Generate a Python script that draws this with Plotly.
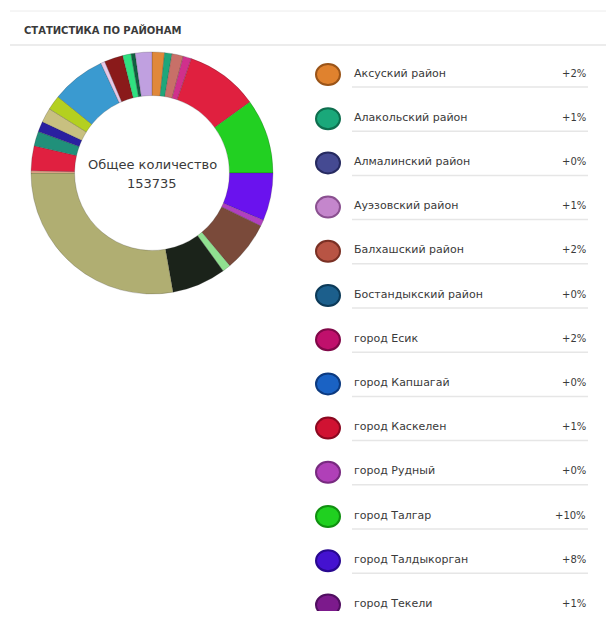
import plotly.graph_objects as go

# ---- donut slices (clockwise from 12 o'clock) ----
slice_labels = [
    "Аксуский район", "Алакольский район", "Балхашский район", "город Есик",
    "город Каскелен", "город Талгар", "город Талдыкорган", "город Рудный",
    "Жамбылский район", "Илийский район", "Карасайский район", "Енбекшиказахский район",
    "Кербулакский район", "Коксуский район", "Панфиловский район", "Алмалинский район",
    "Райымбекский район", "Саркандский район", "Бостандыкский район", "Ауэзовский район",
    "Уйгурский район", "Ескельдинский район", "Каратальский район", "город Текели",
]
slice_values = [
    2560, 1500, 2350, 1710, 14950, 15370, 9820, 1280,
    10250, 1710, 11100, 42700, 430, 5120, 2990, 2140,
    2990, 2990, 11100, 850, 3840, 1710, 850, 3420,
]
slice_colors = [
    "#e0883a", "#1fa67a", "#c87068", "#d0308c", "#e0203f", "#22d022", "#6a12ee", "#b040c0",
    "#7a4a3a", "#90e090", "#1b231a", "#b0ae72", "#f0b090", "#e02040", "#20907a", "#2a20a0",
    "#c8c080", "#b4d020", "#3a9ad0", "#e8c8e8", "#8a1a1a", "#30e080", "#106040", "#c0a0e0",
]

# ---- legend list ----
legend_names = [
    "Аксуский район", "Алакольский район", "Алмалинский район", "Ауэзовский район",
    "Балхашский район", "Бостандыкский район", "город Есик", "город Капшагай",
    "город Каскелен", "город Рудный", "город Талгар", "город Талдыкорган", "город Текели",
]
legend_pct = ["+2%", "+1%", "+0%", "+1%", "+2%", "+0%", "+2%", "+0%", "+1%", "+0%", "+10%", "+8%", "+1%"]
legend_colors = [
    "#e0822e", "#1aa87a", "#454a92", "#c486cc", "#b85444", "#1c5f8c", "#c0106c",
    "#1a62c4", "#d01232", "#b040b8", "#20d020", "#4412d0", "#7c1a8c",
]
legend_borders = [
    "#9a5418", "#0e6e4e", "#262a60", "#8a5090", "#7a3024", "#0c3a58", "#800848",
    "#0c3a80", "#8a0820", "#782a80", "#109010", "#280890", "#500e60",
]

total_text = "153735"

OFF = 8               # page body margin
W, H = 598, 603
cx, cy, R = 152, 173, 121
FONT = "DejaVu Sans, Liberation Sans, Arial"

fig = go.Figure()
fig.add_trace(go.Pie(
    labels=slice_labels, values=slice_values,
    marker=dict(colors=slice_colors, line=dict(color="rgba(40,40,40,0.35)", width=0.6)),
    sort=False, direction="clockwise", rotation=0, hole=0.64,
    textinfo="none", showlegend=False, hoverinfo="label+value",
    domain=dict(x=[(cx - R - OFF) / W, (cx + R - OFF) / W],
                y=[1 - (cy + R - OFF) / H, 1 - (cy - R - OFF) / H]),
))

shapes = []
annotations = []

# header lines
shapes.append(dict(type="line", x0=10, x1=620, y0=11, y1=11, line=dict(color="#ececec", width=1), layer="below"))
shapes.append(dict(type="line", x0=10, x1=620, y0=45, y1=45, line=dict(color="#e6e6e6", width=1.5), layer="below"))
annotations.append(dict(x=22, y=30, xref="x", yref="y", text="<b>СТАТИСТИКА ПО РАЙОНАМ</b>", showarrow=False,
                        xanchor="left", yanchor="middle", font=dict(size=10, color="#3a3a3a", family=FONT)))

# center text
annotations.append(dict(x=cx, y=cy - 9, xref="x", yref="y", text="Общее количество", showarrow=False,
                        xanchor="center", yanchor="middle", font=dict(size=13, color="#3a3a3a", family=FONT)))
annotations.append(dict(x=cx, y=cy + 10, xref="x", yref="y", text=total_text, showarrow=False,
                        xanchor="center", yanchor="middle", font=dict(size=13, color="#3a3a3a", family=FONT)))

# legend list
y0, dy = 74.5, 44.2
for i, (name, pct, col, bcol) in enumerate(zip(legend_names, legend_pct, legend_colors, legend_borders)):
    y = y0 + i * dy
    shapes.append(dict(type="circle", x0=328 - 12, x1=328 + 12, y0=y - 10.5, y1=y + 10.5,
                       fillcolor=col, line=dict(color=bcol, width=2)))
    shapes.append(dict(type="line", x0=352, x1=588, y0=y + 12.5, y1=y + 12.5,
                       line=dict(color="#e6e6e6", width=1.5), layer="below"))
    annotations.append(dict(x=352, y=y - 1.5, xref="x", yref="y", text=name, showarrow=False,
                            xanchor="left", yanchor="middle", font=dict(size=11, color="#3a3a3a", family=FONT)))
    annotations.append(dict(x=588, y=y - 1.5, xref="x", yref="y", text=pct, showarrow=False,
                            xanchor="right", yanchor="middle", font=dict(size=10, color="#3a3a3a", family=FONT)))

fig.update_layout(
    width=W, height=H, margin=dict(l=0, r=0, t=0, b=0),
    paper_bgcolor="white", plot_bgcolor="white",
    xaxis=dict(range=[OFF, OFF + W], visible=False, fixedrange=True),
    yaxis=dict(range=[OFF + H, OFF], visible=False, fixedrange=True),
    shapes=shapes, annotations=annotations,
)

fig.write_html("out.html")
